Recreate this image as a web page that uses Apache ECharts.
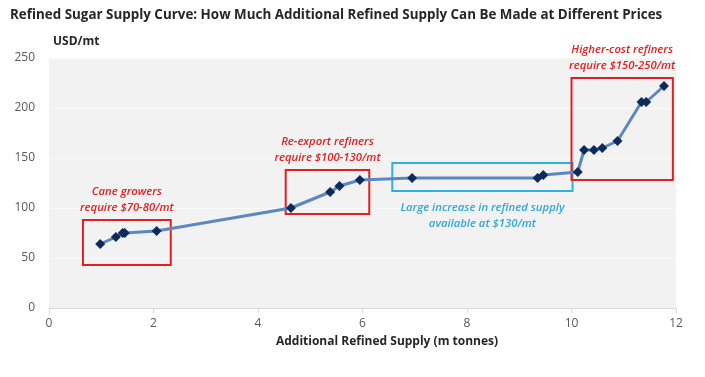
<!DOCTYPE html>
<html><head><meta charset="utf-8">
<script src="https://cdn.jsdelivr.net/npm/echarts@6/dist/echarts.min.js"></script>
<style>html,body{margin:0;padding:0;background:#fff}#c{width:705px;height:377px}</style>
</head><body><div id="c"></div>
<script>
const supply = [0.98,1.28,1.41,1.45,2.06,4.63,5.38,5.56,5.95,6.95,9.35,9.46,10.12,10.24,10.43,10.59,10.88,11.34,11.43,11.77];
const price  = [64,71,75,75,77,100,116,122,128,130,130,133,136,158,158,160,167,206,206,222];
const xTicks = [0,2,4,6,8,10,12];
const yTicks = [0,50,100,150,200,250];
const boxNames = ['Cane growers\nrequire $70-80/mt','Re-export refiners\nrequire $100-130/mt','Large increase in refined supply\navailable at $130/mt','Higher-cost refiners\nrequire $150-250/mt'];
const boxX0 = [0.65,4.53,6.57,10.0];
const boxX1 = [2.33,6.13,10.02,11.94];
const boxY0 = [43,94,117,128];
const boxY1 = [88,138,145,230];
const boxColor = ['#e02020','#e02020','#2eb0e0','#e02020'];
const boxLabelPos = ['top','top','bottom','top'];
const boxLabelDist = [3,3,8,3];
const boxLabelColor = ['#e02020','#e02020','#2ea8dc','#e02020'];

const chart = echarts.init(document.getElementById('c'));
const font = '"Open Sans", "Noto Sans", sans-serif';
const markData = boxNames.map((n,i)=>[
  {coord:[boxX0[i],boxY0[i]], itemStyle:{color:'rgba(0,0,0,0)',borderColor:boxColor[i],borderWidth:2},
   label:{show:true,position:boxLabelPos[i],distance:boxLabelDist[i],formatter:n,color:boxLabelColor[i],fontStyle:'italic',fontWeight:600,fontSize:11.3,lineHeight:16,align:'center',fontFamily:font}},
  {coord:[boxX1[i],boxY1[i]]}
]);
chart.setOption({
  animation:false,
  textStyle:{fontFamily:font},
  graphic:[
    {type:'text',x:10,y:15,style:{text:'Refined Sugar Supply Curve: How Much Additional Refined Supply Can Be Made at Different Prices',font:'bold 13.4px "Open Sans", sans-serif',fill:'#262626',textVerticalAlign:'middle'}},
    {type:'text',x:53,y:42,style:{text:'USD/mt',font:'bold 12px "Open Sans", sans-serif',fill:'#262626',textVerticalAlign:'middle'}},
    {type:'text',x:387,y:342,style:{text:'Additional Refined Supply (m tonnes)',font:'bold 12px "Open Sans", sans-serif',fill:'#262626',textAlign:'center',textVerticalAlign:'middle'}}
  ],
  grid:{left:49,right:29,top:58,bottom:69,show:true,backgroundColor:'#f2f2f2',borderWidth:0},
  xAxis:{type:'value',min:xTicks[0],max:xTicks[xTicks.length-1],interval:2,
    axisLine:{lineStyle:{color:'#d9d9d9'}},axisTick:{show:true,length:5,lineStyle:{color:'#d9d9d9'}},
    axisLabel:{color:'#595959',fontSize:12,margin:10},splitLine:{show:false}},
  yAxis:{type:'value',min:yTicks[0],max:yTicks[yTicks.length-1],interval:50,
    axisLine:{show:false},axisTick:{show:false},
    axisLabel:{color:'#595959',fontSize:12,margin:14},splitLine:{lineStyle:{color:'#fafafa'}}},
  series:[{type:'line',data:supply.map((x,i)=>[x,price[i]]),
    lineStyle:{color:'#5b88c0',width:3},symbol:'diamond',symbolSize:10,
    itemStyle:{color:'#0e2a5c'},
    markArea:{silent:true,data:markData}}]
});
</script></body></html>
